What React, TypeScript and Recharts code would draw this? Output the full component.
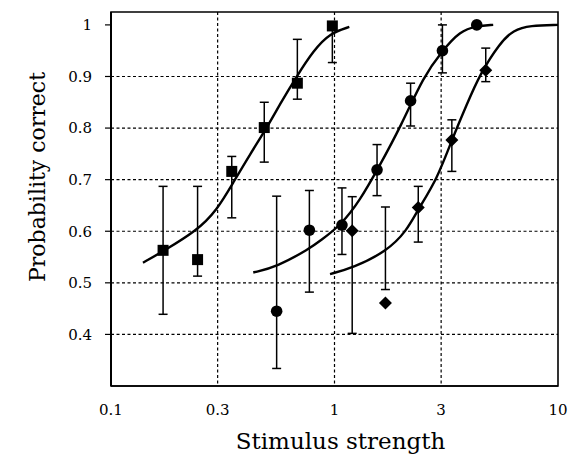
import React from 'react';
import {
  ComposedChart,
  Line,
  Scatter,
  ErrorBar,
  XAxis,
  YAxis,
  CartesianGrid,
  ReferenceArea,
} from 'recharts';

// measured points (x = stimulus strength, y = proportion correct, lo/hi = error bar ends)
const squareX = [0.171, 0.244, 0.347, 0.485, 0.682, 0.978];
const squareY = [0.563, 0.545, 0.716, 0.801, 0.887, 0.998];
const squareLo = [0.439, 0.513, 0.626, 0.734, 0.856, 0.927];
const squareHi = [0.687, 0.687, 0.745, 0.85, 0.972, 1.0];

const circleX = [0.551, 0.772, 1.08, 1.55, 2.19, 3.04, 4.33];
const circleY = [0.445, 0.602, 0.612, 0.719, 0.853, 0.95, 1.0];
const circleLo = [0.334, 0.482, 0.555, 0.669, 0.804, 0.907, 1.0];
const circleHi = [0.668, 0.679, 0.684, 0.768, 0.887, 1.0, 1.0];

const diamondX = [1.2, 1.69, 2.37, 3.35, 4.75];
const diamondY = [0.601, 0.461, 0.646, 0.777, 0.912];
const diamondLo = [0.402, 0.487, 0.579, 0.716, 0.89];
const diamondHi = [0.667, 0.647, 0.687, 0.816, 0.955];

// fitted curves
const squareFitX = [0.139, 0.171, 0.242, 0.297, 0.353, 0.42, 0.497, 0.58, 0.677, 0.804, 0.955, 1.165];
const squareFitY = [0.539, 0.561, 0.601, 0.64, 0.695, 0.75, 0.8, 0.852, 0.9, 0.95, 0.984, 0.996];

const circleFitX = [0.433, 0.551, 0.772, 0.861, 1.075, 1.3, 1.56, 1.99, 2.5, 3.04, 3.64, 4.33, 5.13];
const circleFitY = [0.52, 0.531, 0.566, 0.581, 0.613, 0.66, 0.72, 0.805, 0.9, 0.95, 0.988, 0.998, 1.0];

const diamondFitX = [0.955, 1.21, 1.71, 2.1, 2.37, 2.87, 3.35, 3.9, 4.48, 5.5, 6.31, 7.5, 10];
const diamondFitY = [0.517, 0.529, 0.561, 0.6, 0.643, 0.7, 0.777, 0.845, 0.905, 0.965, 0.99, 0.999, 1.0];

const xTicks = [0.1, 0.3, 1, 3, 10];
const yTicks = [0.4, 0.5, 0.6, 0.7, 0.8, 0.9, 1];
const xGrid = [0.3, 1, 3];
const yGrid = [0.4, 0.5, 0.6, 0.7, 0.8, 0.9];

const FONT = '"DejaVu Serif", serif';

const points = (xs: number[], ys: number[], lo: number[], hi: number[]) =>
  xs.map((x, i) => ({ x, y: ys[i], err: [ys[i] - lo[i], hi[i] - ys[i]] }));

const curve = (xs: number[], ys: number[]) => xs.map((x, i) => ({ x, y: ys[i] }));

const squareData = points(squareX, squareY, squareLo, squareHi);
const circleData = points(circleX, circleY, circleLo, circleHi);
const diamondData = points(diamondX, diamondY, diamondLo, diamondHi);

const SquareShape = (p: any) => (
  <rect x={p.cx - 5.5} y={p.cy - 5.5} width={11} height={11} fill="#000" />
);
const CircleShape = (p: any) => <circle cx={p.cx} cy={p.cy} r={5.8} fill="#000" />;
const DiamondShape = (p: any) => (
  <polygon
    points={`${p.cx},${p.cy - 6.5} ${p.cx + 6.5},${p.cy} ${p.cx},${p.cy + 6.5} ${p.cx - 6.5},${p.cy}`}
    fill="#000"
  />
);

const YTitle = ({ viewBox }: any) => {
  const x = viewBox.x + 37;
  const y = viewBox.y + viewBox.height / 2 - 22;
  return (
    <text
      x={x}
      y={y}
      transform={`rotate(-90, ${x}, ${y})`}
      textAnchor="middle"
      dominantBaseline="central"
      fontFamily={FONT}
      fontSize={22}
      fill="#000"
    >
      Probability correct
    </text>
  );
};

const XTitle = ({ viewBox }: any) => (
  <text
    x={viewBox.x + viewBox.width / 2 + 6}
    y={viewBox.y + 63}
    textAnchor="middle"
    fontFamily={FONT}
    fontSize={23}
    fill="#000"
  >
    Stimulus strength
  </text>
);

export default function App() {
  return (
    <div style={{ position: 'absolute', left: 0, top: 0, background: '#fff' }}>
      <ComposedChart width={576} height={461} margin={{ top: 12, right: 18, bottom: 0, left: 0 }}>
        <CartesianGrid
          horizontalValues={yGrid}
          verticalValues={xGrid}
          stroke="#000"
          strokeWidth={1.2}
          strokeDasharray="3 2.5"
        />
        <XAxis
          dataKey="x"
          type="number"
          scale="log"
          domain={[0.1, 10]}
          ticks={xTicks}
          allowDataOverflow
          height={75}
          tickLine={false}
          axisLine={{ stroke: '#000', strokeWidth: 1.6 }}
          tickMargin={12}
          tick={{ fill: '#000', fontFamily: FONT, fontSize: 15 }}
          tickFormatter={(v: number) => String(v)}
          label={<XTitle />}
        />
        <YAxis
          dataKey="y"
          type="number"
          domain={[0.3, 1.025]}
          ticks={yTicks}
          allowDataOverflow
          width={111}
          tickSize={6}
          tickMargin={13}
          tickLine={{ stroke: '#000', strokeWidth: 1.2 }}
          axisLine={{ stroke: '#000', strokeWidth: 2 }}
          tick={{ fill: '#000', fontFamily: FONT, fontSize: 15 }}
          tickFormatter={(v: number) => String(v)}
          label={<YTitle />}
        />
        <ReferenceArea x1={0.1} x2={10} y1={0.3} y2={1.025} fill="none" stroke="#000" strokeWidth={1.6} />
        <Line data={curve(squareFitX, squareFitY)} dataKey="y" type="basis" stroke="#000" strokeWidth={2.4} dot={false} isAnimationActive={false} />
        <Line data={curve(circleFitX, circleFitY)} dataKey="y" type="basis" stroke="#000" strokeWidth={2.4} dot={false} isAnimationActive={false} />
        <Line data={curve(diamondFitX, diamondFitY)} dataKey="y" type="basis" stroke="#000" strokeWidth={2.4} dot={false} isAnimationActive={false} />
        <Scatter data={squareData} dataKey="y" shape={SquareShape} isAnimationActive={false}>
          <ErrorBar dataKey="err" direction="y" width={4.5} stroke="#000" strokeWidth={1.5} />
        </Scatter>
        <Scatter data={circleData} dataKey="y" shape={CircleShape} isAnimationActive={false}>
          <ErrorBar dataKey="err" direction="y" width={4.5} stroke="#000" strokeWidth={1.5} />
        </Scatter>
        <Scatter data={diamondData} dataKey="y" shape={DiamondShape} isAnimationActive={false}>
          <ErrorBar dataKey="err" direction="y" width={4.5} stroke="#000" strokeWidth={1.5} />
        </Scatter>
      </ComposedChart>
    </div>
  );
}
